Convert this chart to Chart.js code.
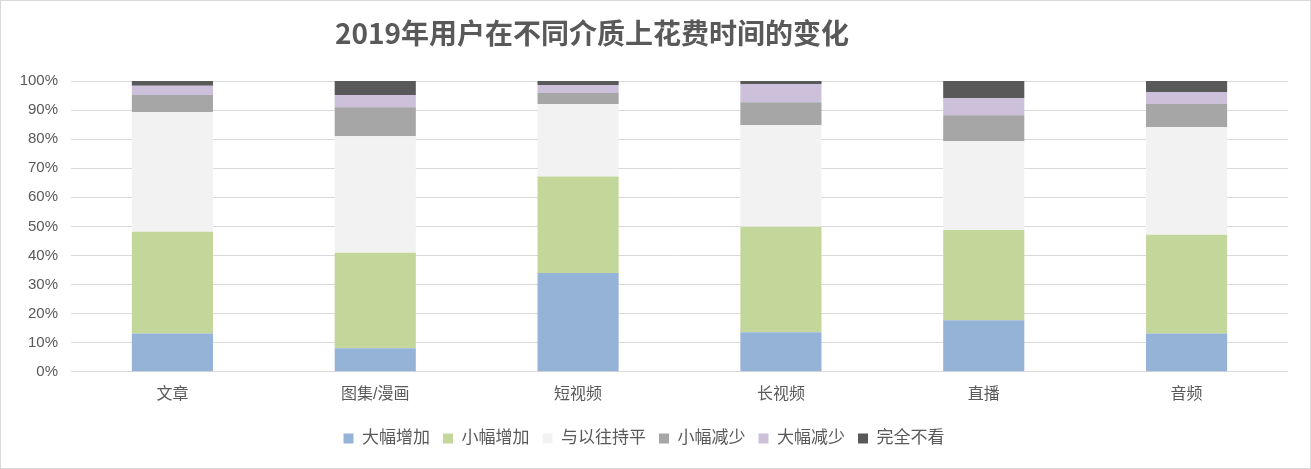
<!DOCTYPE html>
<html>
<head>
<meta charset="utf-8">
<script src="https://cdn.jsdelivr.net/npm/chart.js@4/dist/chart.umd.min.js"></script>
<style>
  html, body { margin: 0; padding: 0; background: #fff; }
  #box { width: 1311px; height: 469px; position: relative; }
</style>
</head>
<body>
<div id="box"><canvas id="graphique"></canvas></div>
<script>
const categories = ["文章", "图集/漫画", "短视频", "长视频", "直播", "音频"];
const seriesNames = ["大幅增加", "小幅增加", "与以往持平", "小幅减少", "大幅减少", "完全不看"];
const bigUp = [13.2, 8.1, 34.0, 13.6, 17.7, 13.2];
const smallUp = [35.0, 32.8, 33.2, 36.3, 31.1, 33.9];
const same = [41.1, 40.1, 24.9, 34.9, 30.5, 37.0];
const smallDown = [5.9, 10.0, 3.8, 7.9, 8.9, 8.0];
const bigDown = [3.2, 4.2, 2.7, 6.3, 5.9, 4.1];
const never = [1.6, 4.8, 1.4, 1.0, 5.9, 3.8];
const yTicks = [0, 10, 20, 30, 40, 50, 60, 70, 80, 90, 100];
const titleText = "2019年用户在不同介质上花费时间的变化";

const couleurs = ["#95b3d7", "#c4d79b", "#f2f2f2", "#a6a6a6", "#ccc0da", "#595959"];
const valeurs = [bigUp, smallUp, same, smallDown, bigDown, never];

const fondEtTitre = {
  id: "fondEtTitre",
  beforeDraw(chart) {
    const ctx = chart.ctx;
    ctx.save();
    ctx.fillStyle = "#fff";
    ctx.fillRect(0, 0, chart.width, chart.height);
    ctx.strokeStyle = "#d9d9d9";
    ctx.lineWidth = 1;
    ctx.strokeRect(0.5, 0.5, chart.width - 1, chart.height - 1);
    ctx.restore();
  },
  afterDraw(chart) {
    const ctx = chart.ctx;
    ctx.save();
    ctx.fillStyle = "#595959";
    ctx.font = "bold 28px 'Noto Sans CJK SC', 'Liberation Sans', sans-serif";
    ctx.textAlign = "center";
    ctx.textBaseline = "middle";
    ctx.fillText(titleText, 592, 33);
    ctx.restore();
  }
};

const polices = "'Liberation Sans', 'Noto Sans CJK SC', sans-serif";

new Chart(document.getElementById("graphique").getContext("2d"), {
  type: "bar",
  data: {
    labels: categories,
    datasets: seriesNames.map((nom, i) => ({
      label: nom,
      data: valeurs[i],
      backgroundColor: couleurs[i],
      borderWidth: 0,
      categoryPercentage: 1,
      barPercentage: 0.4
    }))
  },
  options: {
    responsive: true,
    maintainAspectRatio: false,
    animation: false,
    layout: { padding: { top: 81, right: 23, left: 0, bottom: 12 } },
    plugins: {
      title: { display: false },
      tooltip: { enabled: false },
      legend: {
        position: "bottom",
        labels: {
          color: "#595959",
          font: { size: 17, family: polices },
          boxWidth: 10,
          boxHeight: 10,
          padding: 13
        }
      }
    },
    scales: {
      x: {
        stacked: true,
        grid: { display: false, drawTicks: false },
        border: { display: false },
        ticks: { color: "#595959", font: { size: 16, family: polices }, padding: 13 }
      },
      y: {
        stacked: true,
        min: 0,
        max: 100,
        afterFit: (s) => { s.width = 71; },
        afterBuildTicks: (s) => { s.ticks = yTicks.map(v => ({ value: v })); },
        grid: { color: "#d9d9d9", lineWidth: 1, drawTicks: false },
        border: { display: false },
        ticks: {
          color: "#595959",
          font: { size: 15, family: polices },
          padding: 13,
          callback: (v) => v + "%"
        }
      }
    }
  },
  plugins: [fondEtTitre]
});
</script>
</body>
</html>
